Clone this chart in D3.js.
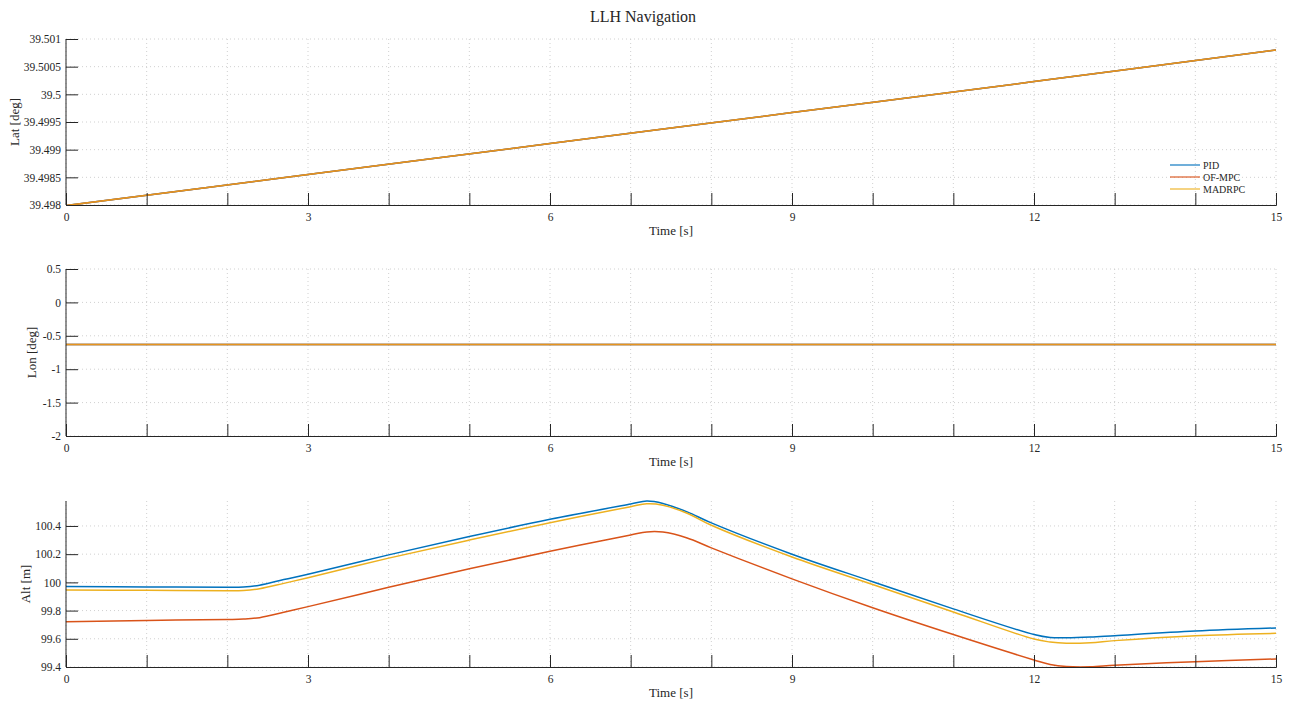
<!DOCTYPE html>
<html><head><meta charset="utf-8">
<script src="https://cdn.jsdelivr.net/npm/d3@7"></script>
<style>
body{margin:0;background:#fff;}
text{font-family:"Liberation Serif","DejaVu Serif",serif;fill:#262626;}
</style></head>
<body>
<svg id="chart" width="1293" height="704"></svg>
<script>
// ---- data ----
const seriesNames = ["PID", "OF-MPC", "MADRPC"];
const seriesColors = ["#0072BD", "#D95319", "#EDB120"];

const xTicks = d3.range(0, 16, 1);
const xTickLabels = [0, 3, 6, 9, 12, 15];

// Lat
const latTime = [0, 3, 6, 9, 12, 15];
const latPID    = [39.49799, 39.49855, 39.49911, 39.49967, 39.50023, 39.50080];
const latOFMPC  = [39.49799, 39.49855, 39.49911, 39.49967, 39.50023, 39.50080];
const latMADRPC = [39.49799, 39.49855, 39.49911, 39.49967, 39.50023, 39.50080];
const latTicks = [39.498, 39.4985, 39.499, 39.4995, 39.5, 39.5005, 39.501];
const latTickLabels = ["39.498","39.4985","39.499","39.4995","39.5","39.5005","39.501"];

// Lon
const lonTime = [0, 15];
const lonPID    = [-0.63, -0.63];
const lonOFMPC  = [-0.63, -0.63];
const lonMADRPC = [-0.63, -0.63];
const lonTicks = [-2, -1.5, -1, -0.5, 0, 0.5];
const lonTickLabels = ["-2","-1.5","-1","-0.5","0","0.5"];

// Alt
const altTime = [0, 1, 2, 2.2, 2.4, 2.7, 3, 4, 5, 6, 7, 7.2, 7.4, 7.7, 8, 9, 10, 11, 12, 12.2, 12.4, 12.7, 13, 14, 15];
const altPID    = [99.970, 99.968, 99.966, 99.968, 99.980, 100.020, 100.057, 100.195, 100.325, 100.447, 100.556, 100.577, 100.560, 100.500, 100.422, 100.200, 100.005, 99.812, 99.630, 99.609, 99.607, 99.612, 99.622, 99.655, 99.677];
const altOFMPC  = [99.721, 99.730, 99.737, 99.740, 99.750, 99.788, 99.828, 99.965, 100.097, 100.220, 100.336, 100.358, 100.357, 100.315, 100.245, 100.025, 99.820, 99.630, 99.450, 99.418, 99.403, 99.401, 99.412, 99.438, 99.457];
const altMADRPC = [99.946, 99.944, 99.941, 99.943, 99.955, 99.993, 100.033, 100.172, 100.300, 100.423, 100.537, 100.557, 100.547, 100.490, 100.405, 100.180, 99.985, 99.790, 99.598, 99.577, 99.568, 99.572, 99.587, 99.622, 99.639];
const altTicks = [99.4, 99.6, 99.8, 100, 100.2, 100.4];
const altTickLabels = ["99.4","99.6","99.8","100","100.2","100.4"];

// ---- drawing ----
const svg = d3.select("#chart");
const axisColor = "#262626";
const fontFam = "'Liberation Serif','DejaVu Serif',serif";
const left = 66, right = 1276;

svg.append("text").attr("x", 643).attr("y", 22).attr("text-anchor", "middle")
  .style("font-size", "16px").text("LLH Navigation");

const panels = [
  {top: 39, bottom: 205, ylabel: "Lat [deg]", ylabelX: 19, domain: [39.498, 39.501],
   time: latTime, series: [latPID, latOFMPC, latMADRPC], ticks: latTicks, tickLabels: latTickLabels, legend: true, overlap: true},
  {top: 269, bottom: 436, ylabel: "Lon [deg]", ylabelX: 36, domain: [-2, 0.5],
   time: lonTime, series: [lonPID, lonOFMPC, lonMADRPC], ticks: lonTicks, tickLabels: lonTickLabels, overlap: true},
  {top: 501, bottom: 667, ylabel: "Alt [m]", ylabelX: 30, domain: [99.4, d3.max(altPID)],
   time: altTime, series: [altPID, altOFMPC, altMADRPC], ticks: altTicks, tickLabels: altTickLabels}
];

const x = d3.scaleLinear().domain([0, 15]).range([left, right]);

panels.forEach((p, pi) => {
  const y = d3.scaleLinear().domain(p.domain).range([p.bottom, p.top]);
  const g = svg.append("g");
  const clipId = "clip" + pi;
  svg.append("clipPath").attr("id", clipId).append("rect")
    .attr("x", left).attr("y", p.top - 1).attr("width", right - left).attr("height", p.bottom - p.top + 2);

  // grid
  g.selectAll(".vg").data(xTicks).join("line")
    .attr("x1", d => x(d)).attr("x2", d => x(d)).attr("y1", p.top).attr("y2", p.bottom)
    .attr("stroke", "#d0d0d0").attr("stroke-width", 1).attr("stroke-dasharray", "1,3");
  g.selectAll(".hg").data(p.ticks).join("line")
    .attr("x1", left).attr("x2", right).attr("y1", d => y(d)).attr("y2", d => y(d))
    .attr("stroke", "#d0d0d0").attr("stroke-width", 1).attr("stroke-dasharray", "1,3");

  // lines
  const line = d3.line().x((d, i) => x(p.time[i])).y(d => y(d)).curve(d3.curveCatmullRom.alpha(0.5));
  p.series.forEach((s, si) => {
    g.append("path").datum(s).attr("d", line).attr("fill", "none")
      .attr("clip-path", `url(#${clipId})`)
      .attr("stroke", seriesColors[si]).attr("stroke-width", 1.5)
      .attr("stroke-opacity", p.overlap && si === 2 ? 0.7 : 1);
  });

  // x axis
  const xa = d3.axisBottom(x).tickValues(xTicks).tickSize(-12).tickPadding(8)
    .tickFormat(d => xTickLabels.includes(d) ? d : "");
  const xg = svg.append("g").attr("transform", `translate(0,${p.bottom})`).call(xa)
    .attr("font-family", fontFam);
  xg.select(".domain").attr("stroke", axisColor);
  xg.selectAll(".tick line").attr("stroke", axisColor);
  xg.selectAll(".tick text").style("font-size", "11.5px").style("font-family", fontFam).attr("fill", axisColor)
    .attr("y", 8).attr("dy", "0.71em");

  // y axis
  const ya = d3.axisLeft(y).tickValues(p.ticks).tickSize(-12).tickPadding(5)
    .tickFormat((d, i) => p.tickLabels[i]);
  const yg = svg.append("g").attr("transform", `translate(${left},0)`).call(ya)
    .attr("font-family", fontFam);
  yg.select(".domain").attr("stroke", axisColor)
    .attr("d", `M0,${p.top}V${p.bottom}`);
  yg.selectAll(".tick line").attr("stroke", axisColor);
  yg.selectAll(".tick text").style("font-size", "11.5px").style("font-family", fontFam).attr("fill", axisColor).attr("x", -5);

  // labels
  svg.append("text").attr("x", (left + right) / 2).attr("y", p.bottom + 30)
    .attr("text-anchor", "middle").style("font-size", "13px").text("Time [s]");
  svg.append("text").attr("transform", `translate(${p.ylabelX},${(p.top + p.bottom) / 2}) rotate(-90)`)
    .attr("text-anchor", "middle").style("font-size", "13px").text(p.ylabel);

  if (p.legend) {
    const lg = svg.append("g");
    seriesNames.forEach((n, i) => {
      const ly = 165 + i * 12;
      lg.append("line").attr("x1", 1170).attr("x2", 1200).attr("y1", ly).attr("y2", ly)
        .attr("stroke", seriesColors[i]).attr("stroke-width", 1.5).attr("stroke-opacity", 0.75);
      lg.append("text").attr("x", 1203).attr("y", ly + 3.5).style("font-size", "10px").text(n);
    });
  }
});
</script>
</body></html>
